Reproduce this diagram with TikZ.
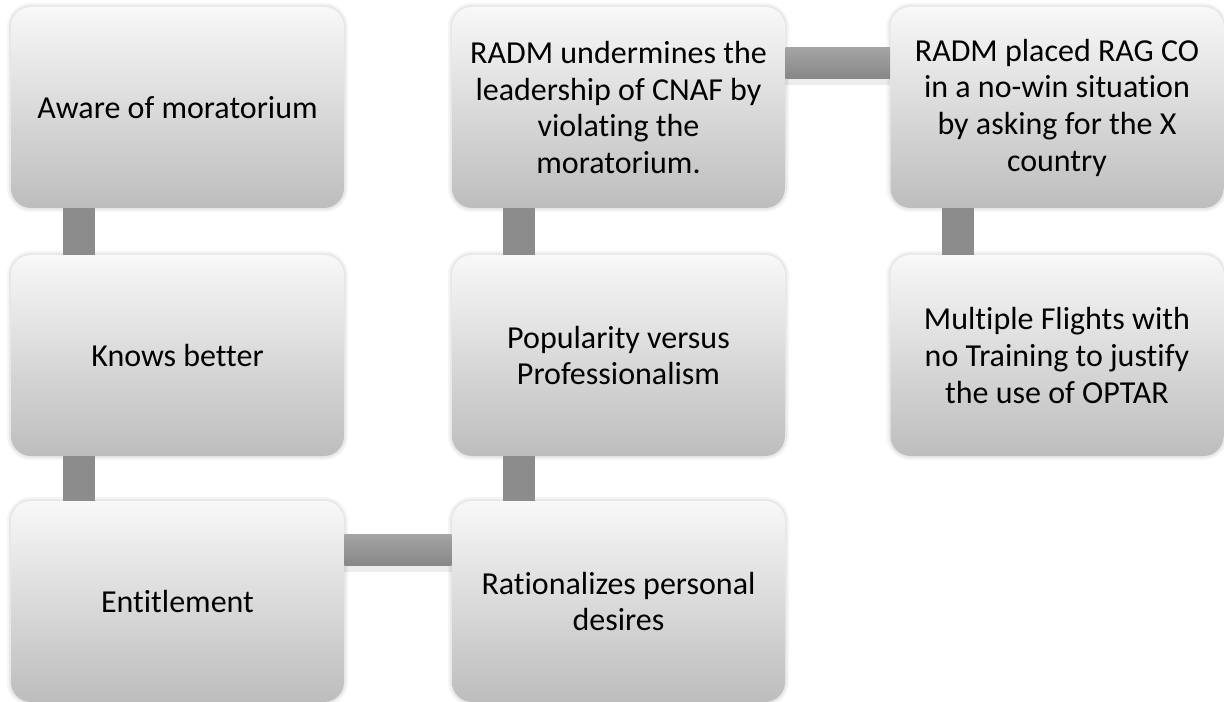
\documentclass[tikz,border=0pt]{standalone}
\usepackage{fontspec}
\setmainfont{Carlito}[Ligatures=NoCommon]
\usetikzlibrary{calc}
\definecolor{boxtop}{HTML}{F8F8F8}
\definecolor{boxbot}{HTML}{BDBDBD}
\definecolor{conntop}{HTML}{A4A4A4}
\definecolor{connbot}{HTML}{878787}
\definecolor{connv}{HTML}{8C8C8C}
\tikzset{
  card/.style={rectangle, rounded corners=15pt, minimum width=249.75pt, minimum height=150.75pt,
    top color=boxtop, bottom color=boxbot, draw=none, align=center, inner sep=0pt,
    font=\fontsize{24}{27.5}\selectfont, text=black,
    preaction={draw=black, draw opacity=0.04, line width=6pt},
    preaction={draw=black, draw opacity=0.05, line width=3pt}},
  hbar/.style={top color=conntop, bottom color=connbot, draw=none},
  vbar/.style={fill=connv, draw=none},
  barshadow/.style={fill=black, fill opacity=0.07, draw=none}
}
\begin{document}
\begin{tikzpicture}[x=0.75pt, y=-0.75pt]
\useasboundingbox (0,0) rectangle (1224,702);
\fill[white] (0,0) rectangle (1224,702);
\node[card] (a1) at (177.5,107.5) {Aware of moratorium};
\node[card] (a2) at (177.5,355.5) {Knows better};
\node[card] (a3) at (177.5,601.5) {Entitlement};
\node[card] (b3) at (618.5,601.5) {Rationalizes personal\\desires};
\node[card] (b2) at (618.5,355.5) {Popularity versus\\Professionalism};
\node[card] (b1) at (618.5,107.5) {RADM undermines the\\leadership of CNAF by\\violating the\\moratorium.};
\node[card] (c1) at (1057,107.5) {RADM placed RAG CO\\in a no-win situation\\by asking for the X\\country};
\node[card] (c2) at (1057,355.5) {Multiple Flights with\\no Training to justify\\the use of OPTAR};
% vertical connectors
\fill[vbar] ($(a1.south west)+(52,0)$) rectangle ($(a2.north west)+(84,0)$);
\fill[vbar] ($(a2.south west)+(52,0)$) rectangle ($(a3.north west)+(84,0)$);
\fill[vbar] ($(b3.north west)+(51,0)$) rectangle ($(b2.south west)+(83,0)$);
\fill[vbar] ($(b2.north west)+(51,0)$) rectangle ($(b1.south west)+(83,0)$);
\fill[vbar] ($(c1.south west)+(52,0)$) rectangle ($(c2.north west)+(84,0)$);
% horizontal connectors
\fill[barshadow] ($(a3.north east)+(0,65)$) rectangle ($(b3.north west)+(0,71)$);
\shade[hbar] ($(a3.north east)+(0,34)$) rectangle ($(b3.north west)+(0,65)$);
\fill[barshadow] ($(b1.north east)+(0,72)$) rectangle ($(c1.north west)+(0,78)$);
\shade[hbar] ($(b1.north east)+(0,41)$) rectangle ($(c1.north west)+(0,72)$);
\end{tikzpicture}
\end{document}
